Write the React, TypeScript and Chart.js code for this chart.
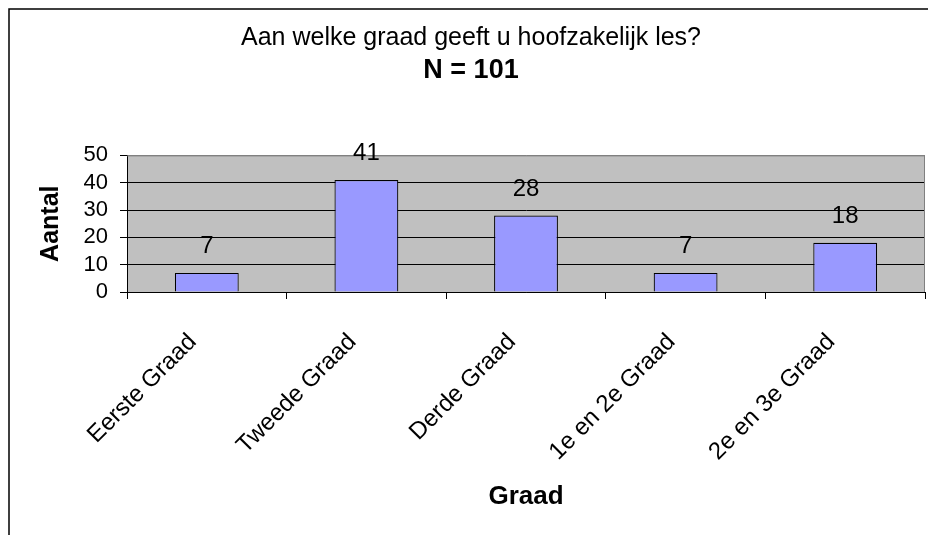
import React, { useEffect, useRef } from "react";
import { Chart, registerables } from "chart.js";

Chart.register(...registerables);

const titleText = "Aan welke graad geeft u hoofzakelijk les?";
const subtitleText = "N = 101";
const categories = ["Eerste Graad", "Tweede Graad", "Derde Graad", "1e en 2e Graad", "2e en 3e Graad"];
const counts = [7, 41, 28, 7, 18];
const yTitle = "Aantal";
const xTitle = "Graad";
const yMin = 0;
const yMax = 50;
const yStep = 10;

const FONT = "'Liberation Sans', Arial, sans-serif";
const CW = 926;
const CH = 527;

const bgPlugin = {
  id: "plotBg",
  beforeDraw(chart: any) {
    const { ctx, chartArea } = chart;
    ctx.save();
    ctx.fillStyle = "#C0C0C0";
    ctx.fillRect(chartArea.left, chartArea.top, chartArea.right - chartArea.left, chartArea.bottom - chartArea.top);
    ctx.restore();
  },
  beforeDatasetsDraw(chart: any) {
    const { ctx, chartArea } = chart;
    ctx.save();
    ctx.strokeStyle = "#808080";
    ctx.lineWidth = 1;
    ctx.beginPath();
    ctx.moveTo(chartArea.left, chartArea.top + 0.5);
    ctx.lineTo(chartArea.right - 0.5, chartArea.top + 0.5);
    ctx.lineTo(chartArea.right - 0.5, chartArea.bottom);
    ctx.stroke();
    ctx.restore();
  },
  afterDraw(chart: any) {
    const { ctx } = chart;
    ctx.save();
    ctx.strokeStyle = "#000";
    ctx.lineWidth = 1.5;
    ctx.beginPath();
    ctx.moveTo(1, CH + 10);
    ctx.lineTo(1, 1);
    ctx.lineTo(CW + 10, 1);
    ctx.stroke();
    ctx.restore();
  },
};

const labelPlugin = {
  id: "barLabels",
  afterDatasetsDraw(chart: any) {
    const { ctx } = chart;
    const meta = chart.getDatasetMeta(0);
    ctx.save();
    ctx.fillStyle = "#000";
    ctx.font = `24px ${FONT}`;
    ctx.textAlign = "center";
    ctx.textBaseline = "alphabetic";
    meta.data.forEach((el: any, i: number) => {
      ctx.fillText(String(counts[i]), el.x, el.y - 20);
    });
    ctx.restore();
  },
};

export default function App() {
  const ref = useRef<HTMLCanvasElement>(null);
  useEffect(() => {
    if (!ref.current) return;
    const chart = new Chart(ref.current, {
      type: "bar",
      data: {
        labels: categories,
        datasets: [
          {
            data: counts,
            backgroundColor: "#9999FF",
            borderColor: "#000",
            borderWidth: 1.2,
            categoryPercentage: 1,
            barPercentage: 0.4,
          },
        ],
      },
      options: {
        responsive: false,
        maintainAspectRatio: false,
        devicePixelRatio: 1,
        animation: false,
        layout: { padding: 0 },
        plugins: {
          legend: { display: false },
          tooltip: { enabled: false },
          title: {
            display: true,
            text: titleText,
            color: "#000",
            font: { family: FONT, size: 25, weight: "normal" },
            padding: { top: 15, bottom: 1 },
          },
          subtitle: {
            display: true,
            text: subtitleText,
            color: "#000",
            font: { family: FONT, size: 27, weight: "bold" },
            padding: { top: 0, bottom: 69 },
          },
        },
        scales: {
          x: {
            afterFit(scale: any) {
              scale.height = 243;
            },
            grid: {
              offset: true,
              drawOnChartArea: false,
              drawTicks: true,
              tickLength: 7,
              color: "#000",
            },
            border: { color: "#000", width: 1 },
            ticks: {
              color: "#000",
              font: { family: FONT, size: 24 },
              minRotation: 45,
              maxRotation: 45,
              autoSkip: false,
              padding: 29,
              labelOffset: -14,
            },
            title: {
              display: true,
              text: xTitle,
              color: "#000",
              font: { family: FONT, size: 26, weight: "bold" },
              padding: { top: 23, bottom: 23 },
            },
          },
          y: {
            min: yMin,
            max: yMax,
            afterFit(scale: any) {
              scale.width = 119;
            },
            grid: {
              color: (c: any) => (c.tick && c.tick.value === yMax ? "#808080" : "#000"),
              tickColor: "#000",
              tickLength: 7,
              lineWidth: 1,
            },
            border: { color: "#000", width: 1 },
            ticks: {
              stepSize: yStep,
              autoSkip: false,
              color: "#000",
              font: { family: FONT, size: 22 },
              padding: 12,
            },
            title: {
              display: true,
              text: yTitle,
              color: "#000",
              font: { family: FONT, size: 25, weight: "bold" },
              padding: { top: 28, bottom: 28 },
            },
          },
          yRight: {
            type: "linear",
            position: "right",
            display: true,
            afterFit(scale: any) {
              scale.width = 9;
            },
            grid: { display: false, drawOnChartArea: false, drawTicks: false },
            border: { display: false },
            ticks: { display: false },
            title: { display: false },
          },
        },
      },
      plugins: [bgPlugin, labelPlugin],
    } as any);
    return () => chart.destroy();
  }, []);
  return (
    <div style={{ position: "fixed", left: 0, top: 0, width: 928, height: 535, overflow: "hidden", background: "#fff" }}>
      <canvas
        ref={ref}
        width={CW}
        height={CH}
        style={{ display: "block", marginLeft: 8, marginTop: 8, width: CW, height: CH }}
      />
    </div>
  );
}
